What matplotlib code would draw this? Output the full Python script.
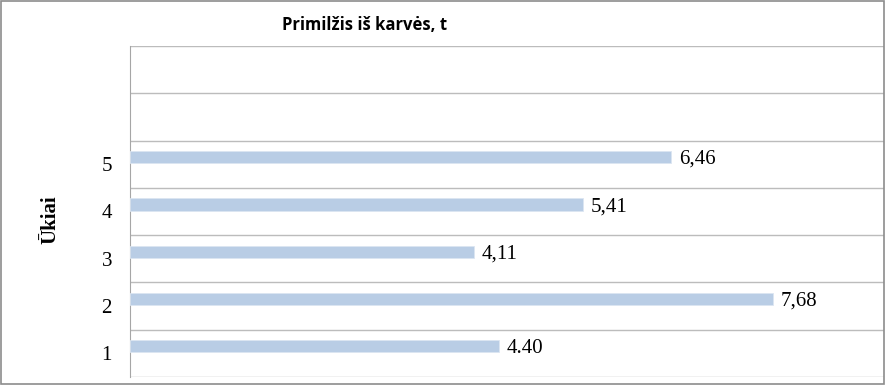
import matplotlib
matplotlib.use('Agg')
import matplotlib.pyplot as plt
from matplotlib.patches import Rectangle

# duomenys
ukiai = [1, 2, 3, 4, 5]
primilzis = [4.40, 7.68, 4.11, 5.41, 6.46]
etiketes = ['4.40', '7,68', '4,11', '5,41', '6,46']

fig = plt.figure(figsize=(8.86, 3.85), dpi=100)
ax = fig.add_axes([130 / 886, 8 / 385, 754 / 886, 331 / 385])

bars = ax.barh([u + 0.15 for u in ukiai], primilzis, height=0.26,
               color='#b9cde5', edgecolor='#dce6f2', linewidth=0.6, zorder=3)

for b, txt in zip(bars, etiketes):
    ax.text(b.get_width() + 0.09, b.get_y() + b.get_height() / 2 - 0.05, txt,
            va='center', ha='left', fontsize=15, family='Liberation Serif')

ax.set_xlim(0, 9)
ax.set_ylim(0.5, 7.5)
ax.set_yticks(ukiai)
ax.set_yticklabels([str(u) for u in ukiai], fontsize=15, family='Liberation Serif')
ax.set_yticks([i + 0.5 for i in range(8)], minor=True)
ax.tick_params(axis='y', which='both', length=0, pad=13)
ax.set_xticks([])
ax.grid(axis='y', which='minor', color='#bcbcbc', linewidth=1, zorder=0)

for s in ['top', 'right', 'bottom']:
    ax.spines[s].set_visible(False)
ax.spines['left'].set_color('#a6a6a6')

ax.set_ylabel('Ūkiai', fontsize=15, fontweight='bold', family='Liberation Serif')
ax.yaxis.set_label_coords(-0.092, 0.474)

fig.text(365 / 886, 1 - 25 / 385, 'Primilžis iš karvės, t', ha='center', va='center',
         fontsize=12, fontweight='bold', family='Open Sans')

# rėmelis aplink visą paveikslą
fig.patches.append(Rectangle((0.001, 0.002), 0.997, 0.995, transform=fig.transFigure,
                             fill=False, edgecolor='#8c8c8c', linewidth=1.2))

fig.savefig('out.png', dpi=100)
